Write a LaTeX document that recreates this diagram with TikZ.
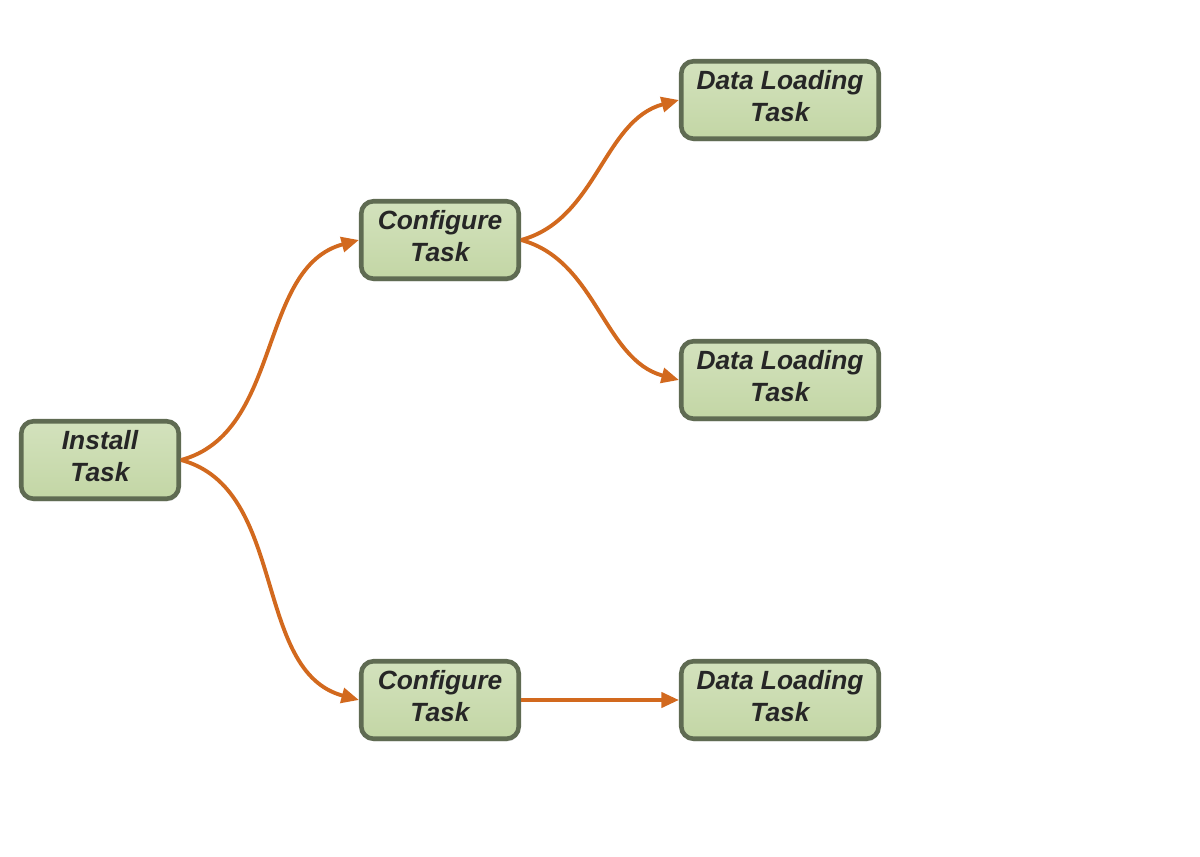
\documentclass[tikz,border=0pt]{standalone}
\usepackage{fontspec}
\setsansfont{Liberation Sans}
\usepackage{tikz}
\usetikzlibrary{arrows.meta,positioning,shadows}

\definecolor{tasktop}{HTML}{D3E2BD}
\definecolor{taskbottom}{HTML}{C3D6A5}
\definecolor{taskline}{HTML}{5F6B52}
\definecolor{flow}{HTML}{D2691E}

\begin{document}
\begin{tikzpicture}[
    box/.style={draw=taskline, line width=2.6pt, rounded corners=7pt, minimum width=3.15cm, minimum height=1.55cm,
      align=center, font=\sffamily\bfseries\itshape\fontsize{15}{18}\selectfont, text=black!85, text depth=0.16cm,
      top color=tasktop, bottom color=taskbottom,
      drop shadow={shadow xshift=0.5pt, shadow yshift=-1.5pt, fill=black!30}},
    wide/.style={minimum width=3.95cm},
    arr/.style={-{Triangle[length=3.5mm, width=3mm]}, draw=flow, line width=2.2pt},
  ]
  \useasboundingbox (0,0) rectangle (24,17.12);
  \node[box] (install) at (2, 7.92) {Install\\Task};
  \node[box] (config1) at (8.8, 12.32) {Configure\\Task};
  \node[box] (config2) at (8.8, 3.12) {Configure\\Task};
  \node[box, wide] (load1) at (15.6, 15.12) {Data Loading\\Task};
  \node[box, wide] (load2) at (15.6, 9.52) {Data Loading\\Task};
  \node[box, wide] (load3) at (15.6, 3.12) {Data Loading\\Task};

  \draw[arr] (install.east) to[out=15, in=195, looseness=0.95] (config1.west);
  \draw[arr] (install.east) to[out=-15, in=165, looseness=0.95] (config2.west);
  \draw[arr] (config1.east) to[out=15, in=195, looseness=0.95] (load1.west);
  \draw[arr] (config1.east) to[out=-15, in=165, looseness=0.95] (load2.west);
  \draw[arr] (config2.east) -- (load3.west);
\end{tikzpicture}
\end{document}
